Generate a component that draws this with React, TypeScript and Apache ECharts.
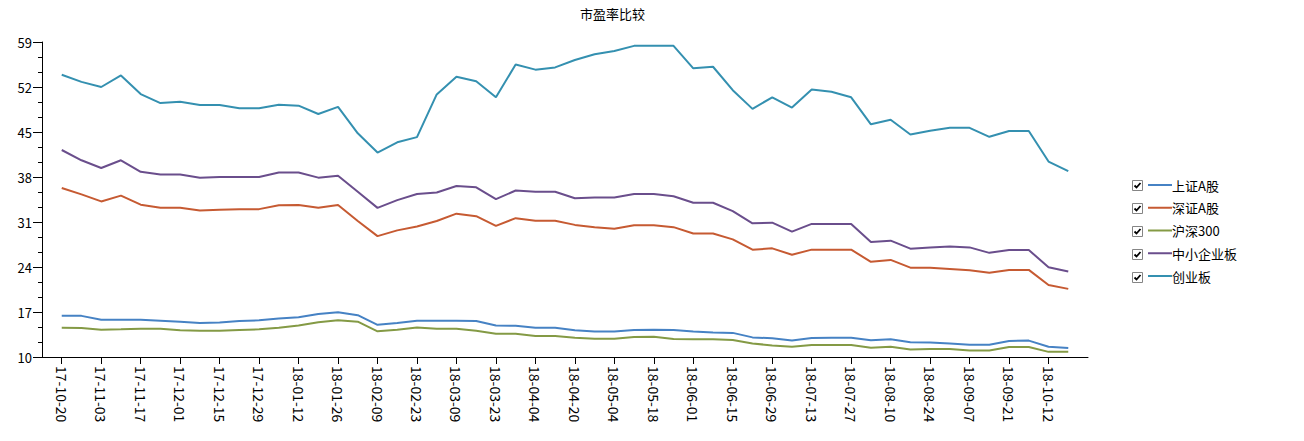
import React, { useEffect, useRef } from 'react';
import * as echarts from 'echarts';

const chartTitle = '市盈率比较';

const dates = [
  '17-10-20', '17-10-27', '17-11-03', '17-11-10', '17-11-17', '17-11-24', '17-12-01', '17-12-08',
  '17-12-15', '17-12-22', '17-12-29', '18-01-05', '18-01-12', '18-01-19', '18-01-26', '18-02-02',
  '18-02-09', '18-02-14', '18-02-23', '18-03-02', '18-03-09', '18-03-16', '18-03-23', '18-03-30',
  '18-04-04', '18-04-13', '18-04-20', '18-04-27', '18-05-04', '18-05-11', '18-05-18', '18-05-25',
  '18-06-01', '18-06-08', '18-06-15', '18-06-22', '18-06-29', '18-07-06', '18-07-13', '18-07-20',
  '18-07-27', '18-08-03', '18-08-10', '18-08-17', '18-08-24', '18-08-31', '18-09-07', '18-09-14',
  '18-09-21', '18-09-28', '18-10-12', '18-10-19',
];

const seriesNames = ['上证A股', '深证A股', '沪深300', '中小企业板', '创业板'];

const shA = [
  16.4, 16.4, 15.8, 15.8, 15.8, 15.65, 15.5, 15.3, 15.35,
  15.6, 15.7, 16.0, 16.2, 16.7, 16.95, 16.5, 15.0, 15.3,
  15.65, 15.65, 15.65, 15.6, 14.9, 14.85, 14.55, 14.55, 14.15,
  13.95, 13.95, 14.2, 14.25, 14.2, 13.95, 13.8, 13.75, 13.05,
  12.9, 12.55, 12.95, 13.0, 13.0, 12.6, 12.75, 12.3, 12.25,
  12.1, 11.9, 11.9, 12.5, 12.55, 11.6, 11.4,
];
const szA = [
  36.3, 35.3, 34.2, 35.1, 33.7, 33.2, 33.2, 32.8, 32.9,
  33.0, 33.0, 33.6, 33.65, 33.2, 33.65, 31.15, 28.8, 29.7,
  30.3, 31.15, 32.3, 31.9, 30.4, 31.6, 31.2, 31.2, 30.55,
  30.2, 29.95, 30.5, 30.5, 30.2, 29.2, 29.2, 28.3, 26.7,
  26.9, 25.9, 26.7, 26.7, 26.7, 24.8, 25.1, 23.9, 23.9,
  23.7, 23.5, 23.1, 23.55, 23.55, 21.2, 20.6,
];
const hs300 = [
  14.55, 14.5, 14.25, 14.3, 14.4, 14.4, 14.15, 14.1, 14.1,
  14.2, 14.3, 14.55, 14.9, 15.4, 15.7, 15.5, 14.0, 14.25,
  14.6, 14.4, 14.4, 14.1, 13.6, 13.6, 13.25, 13.25, 13.0,
  12.85, 12.85, 13.1, 13.15, 12.8, 12.75, 12.75, 12.65, 12.1,
  11.8, 11.6, 11.85, 11.85, 11.85, 11.45, 11.6, 11.15, 11.25,
  11.25, 11.0, 11.0, 11.55, 11.55, 10.8, 10.8,
];
const zxb = [
  42.2, 40.6, 39.4, 40.6, 38.8, 38.4, 38.4, 37.9, 38.0,
  38.0, 38.0, 38.7, 38.7, 37.9, 38.2, 35.7, 33.2, 34.4,
  35.35, 35.6, 36.6, 36.4, 34.55, 35.9, 35.7, 35.7, 34.7,
  34.8, 34.8, 35.35, 35.35, 35.0, 34.0, 34.0, 32.7, 30.8,
  30.9, 29.5, 30.7, 30.7, 30.7, 27.9, 28.1, 26.85, 27.05,
  27.2, 27.05, 26.2, 26.65, 26.65, 23.95, 23.3,
];
const cyb = [
  53.9, 52.8, 52.0, 53.8, 50.9, 49.5, 49.7, 49.2, 49.2,
  48.7, 48.7, 49.25, 49.1, 47.8, 48.9, 44.8, 41.8, 43.4,
  44.2, 50.85, 53.6, 52.9, 50.4, 55.5, 54.7, 55.05, 56.2,
  57.1, 57.6, 58.4, 58.4, 58.4, 54.9, 55.15, 51.5, 48.6,
  50.4, 48.8, 51.6, 51.25, 50.4, 46.2, 46.9, 44.6, 45.2,
  45.65, 45.65, 44.25, 45.15, 45.15, 40.4, 38.9,
];

const yTicks = [10, 17, 24, 31, 38, 45, 52, 59];

const colors = ['#4682c4', '#c65a32', '#849a45', '#6a4e8c', '#3490b0'];

export default function App() {
  const ref = useRef<HTMLDivElement>(null);

  useEffect(() => {
    const chart = echarts.init(ref.current as HTMLDivElement, null, { renderer: 'svg' });
    const font = '"Noto Sans CJK SC", "Noto Sans", sans-serif';
    const cats = ['', ...dates, ''];
    const showIdx = (i: number) => i >= 1 && i <= dates.length && (i - 1) % 2 === 0;
    const minor: number[] = [];
    for (let k = 0; k < yTicks.length - 1; k++) {
      const a = yTicks[k];
      const b = yTicks[k + 1];
      minor.push(a + (b - a) / 3, a + (2 * (b - a)) / 3);
    }
    const allData = [shA, szA, hs300, zxb, cyb];
    const legendTop = 178;
    const step = 23;

    const checkboxes = seriesNames.map((_, i) => ({
      type: 'group',
      x: 1132,
      y: legendTop + 2 + i * step,
      children: [
        {
          type: 'rect',
          shape: { x: 0.5, y: 0.5, width: 10, height: 10 },
          style: { fill: '#fff', stroke: '#858585', lineWidth: 1 },
        },
        {
          type: 'polyline',
          shape: { points: [[2.5, 5.5], [4.5, 7.5], [8.5, 3]] },
          style: { fill: 'none', stroke: '#000', lineWidth: 1.8 },
        },
      ],
    }));

    chart.setOption({
      animation: false,
      color: colors,
      title: {
        text: chartTitle,
        left: 580,
        top: 7,
        padding: 0,
        textStyle: { fontSize: 13, fontWeight: 'normal', color: '#000', fontFamily: font },
      },
      legend: {
        orient: 'vertical',
        left: 1148,
        top: legendTop,
        padding: 0,
        itemGap: 8.75,
        itemWidth: 24,
        itemHeight: 2,
        icon: 'rect',
        data: seriesNames,
        textStyle: { fontSize: 13, lineHeight: 14, color: '#000', fontFamily: font, padding: [0, 0, 0, -5] },
      },
      grid: { left: 42, right: 216, top: 42, bottom: 84, containLabel: false, outerBoundsMode: 'none' },
      xAxis: {
        type: 'category',
        data: cats,
        boundaryGap: false,
        axisLine: { lineStyle: { color: '#000', width: 1 } },
        axisTick: { show: true, interval: (i: number) => showIdx(i), length: 7, lineStyle: { color: '#000' } },
        axisLabel: {
          interval: (i: number) => showIdx(i),
          rotate: -90,
          margin: 9,
          fontSize: 14,
          color: '#000',
          fontFamily: font,
        },
        splitLine: { show: false },
      },
      yAxis: [
        {
          type: 'value',
          min: 10,
          max: 59,
          position: 'left',
          axisLine: { show: true, lineStyle: { color: '#000', width: 1 } },
          axisTick: { show: true, customValues: yTicks, length: 9, lineStyle: { color: '#000' } },
          axisLabel: { customValues: yTicks, color: '#000', fontSize: 13, margin: 10, fontFamily: font },
          splitLine: { show: false },
        },
        {
          type: 'value',
          min: 10,
          max: 59,
          position: 'left',
          offset: 0,
          axisLine: { show: false },
          axisLabel: { show: false },
          splitLine: { show: false },
          axisTick: { show: true, customValues: minor, length: 4, lineStyle: { color: '#000' } },
        },
      ],
      graphic: checkboxes,
      series: seriesNames.map((name, i) => ({
        name,
        type: 'line',
        data: [null, ...allData[i], null],
        symbol: 'none',
        lineStyle: { width: 2, color: colors[i] },
        itemStyle: { color: colors[i] },
      })),
    });

    return () => chart.dispose();
  }, []);

  return (
    <div
      ref={ref}
      style={{ position: 'absolute', left: 0, top: 0, width: 1304, height: 441 }}
    />
  );
}
